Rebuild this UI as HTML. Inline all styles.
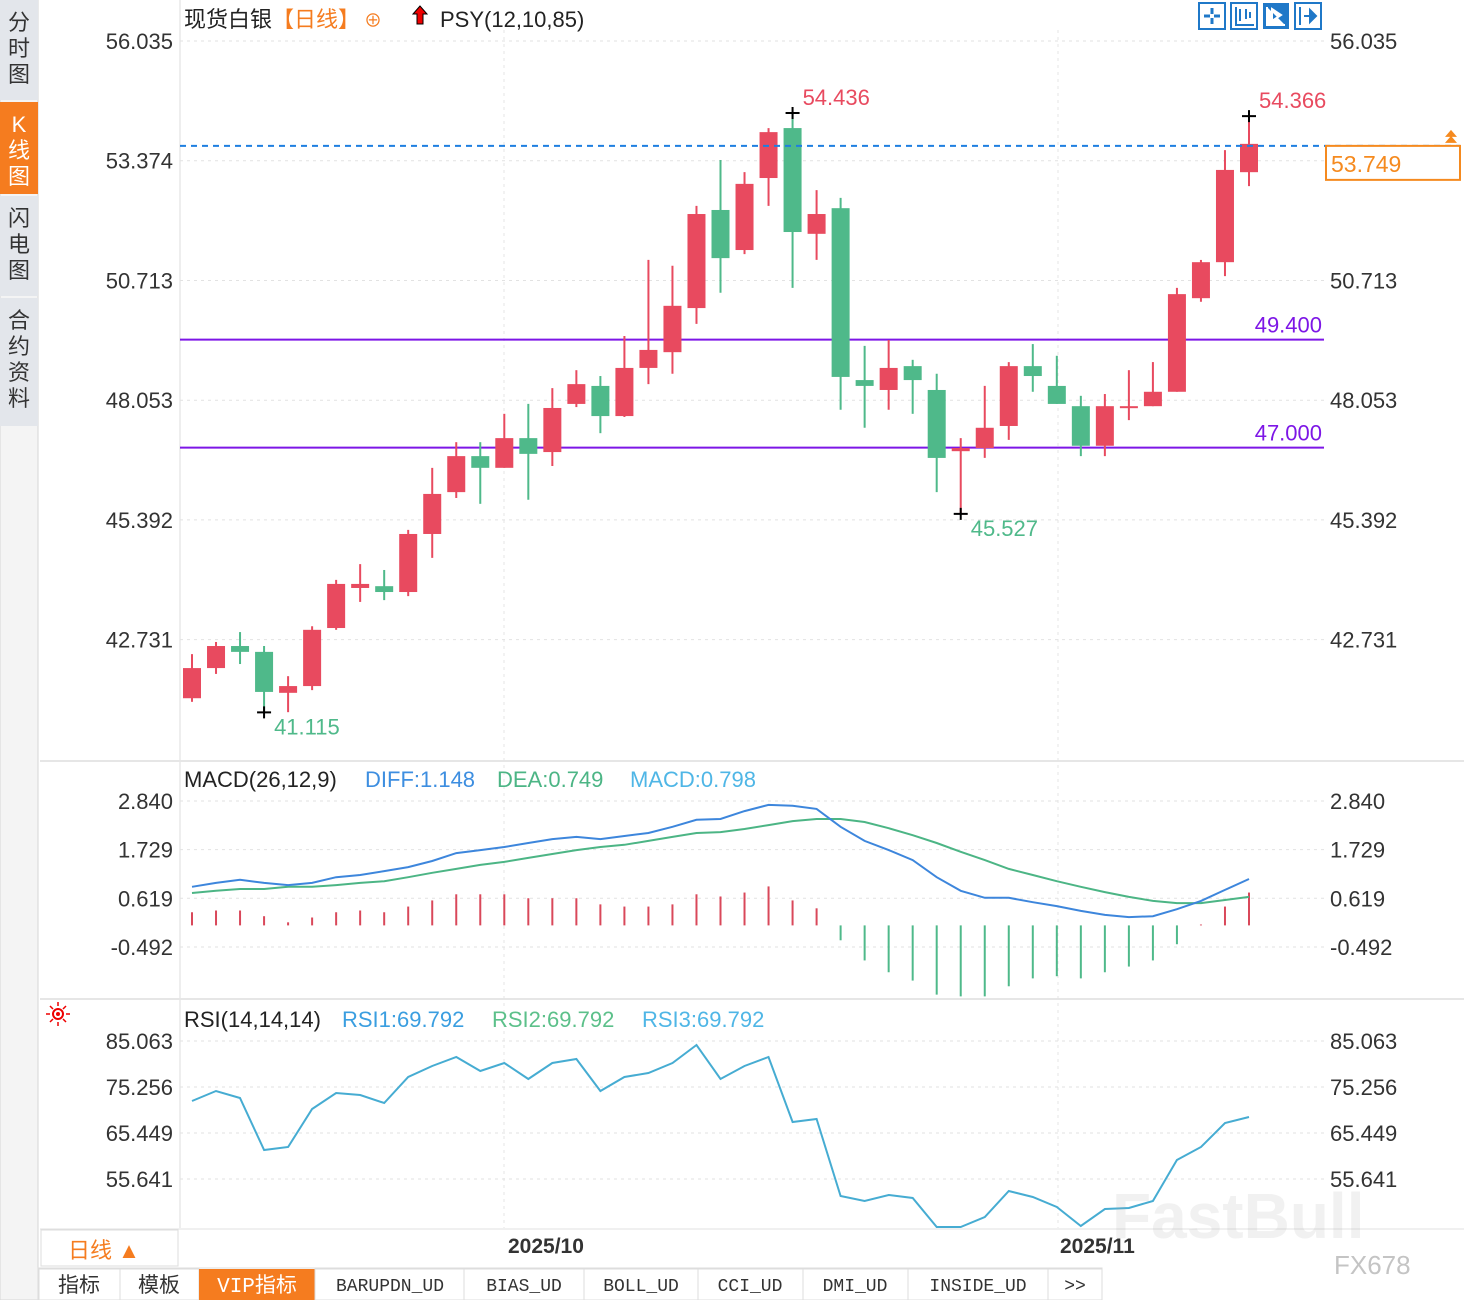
<!DOCTYPE html>
<html><head><meta charset="utf-8"><style>
html,body{margin:0;padding:0;background:#fff;width:1464px;height:1300px;overflow:hidden}
svg{display:block;font-family:"Liberation Sans","Noto Sans CJK SC",sans-serif}
</style></head><body>
<svg id="chart" width="1464" height="1300" viewBox="0 0 1464 1300" xmlns="http://www.w3.org/2000/svg">
<rect x="0" y="0" width="1464" height="1300" fill="#fff"/>
<g>
 <rect x="0" y="0" width="38" height="1300" fill="#f4f4f4" stroke="#d6d6d6"/>
 <rect x="0" y="0" width="38" height="100" fill="#e3e6eb"/>
 <text x="19" y="30" font-size="22" fill="#333" text-anchor="middle"><tspan x="19" dy="0">分</tspan><tspan x="19" dy="26">时</tspan><tspan x="19" dy="26">图</tspan></text>
 <rect x="0" y="102" width="38" height="92" fill="#f57c1f"/>
 <text x="19" y="132" font-size="22" fill="#fff" text-anchor="middle"><tspan x="19" dy="0">K</tspan><tspan x="19" dy="26">线</tspan><tspan x="19" dy="26">图</tspan></text>
 <rect x="0" y="196" width="38" height="100" fill="#e3e6eb"/>
 <text x="19" y="226" font-size="22" fill="#333" text-anchor="middle"><tspan x="19" dy="0">闪</tspan><tspan x="19" dy="26">电</tspan><tspan x="19" dy="26">图</tspan></text>
 <rect x="0" y="298" width="38" height="128" fill="#e3e6eb"/>
 <text x="19" y="328" font-size="22" fill="#333" text-anchor="middle"><tspan x="19" dy="0">合</tspan><tspan x="19" dy="26">约</tspan><tspan x="19" dy="26">资</tspan><tspan x="19" dy="26">料</tspan></text>
</g>
<line x1="180" y1="0" x2="180" y2="1228" stroke="#ddd"/>
<line x1="40" y1="761" x2="1464" y2="761" stroke="#e6e6e6" stroke-width="2"/>
<line x1="40" y1="999" x2="1464" y2="999" stroke="#e6e6e6" stroke-width="2"/>
<g id="grid"></g>
<g id="main"></g>
<g id="macd"></g>
<g id="rsi"></g>
<g id="axes"></g>
<g id="overlay"></g>

<text x="184" y="27" font-size="22" fill="#222">现货白银<tspan fill="#f57c1f">【日线】</tspan><tspan fill="#f57c1f" font-size="18" dx="4">⊕</tspan></text>
<path d="M420 6 l-7 8 h4 v10 h6 v-10 h4 z" fill="#e00" stroke="#000" stroke-width="1"/>
<text x="440" y="27" font-size="22" fill="#222">PSY(12,10,85)</text>

<g>
 <rect x="1199" y="3" width="26" height="26" fill="#fff" stroke="#1f78c8" stroke-width="2"/>
 <path d="M1212 8v6M1212 18v6M1204 16h6M1214 16h6" stroke="#1f78c8" stroke-width="3"/>
 <rect x="1231" y="3" width="26" height="26" fill="#fff" stroke="#1f78c8" stroke-width="2"/>
 <path d="M1236 7v18h18M1240 9v12M1246 9v10M1250 12v6" stroke="#1f78c8" stroke-width="2" fill="none"/>
 <rect x="1263" y="3" width="26" height="26" fill="#1f78c8"/>
 <path d="M1267 7v18h18M1272 9l9 6-9 6z" stroke="#fff" stroke-width="2" fill="#fff"/>
 <rect x="1295" y="3" width="26" height="26" fill="#fff" stroke="#1f78c8" stroke-width="2"/>
 <path d="M1300 7v18M1304 16h8M1310 10l6 6-6 6z" stroke="#1f78c8" stroke-width="2" fill="#1f78c8"/>
</g>

<g>
 <text x="184" y="787" font-size="22" fill="#222">MACD(26,12,9)</text>
 <text x="365" y="787" font-size="22" fill="#3d8ee0">DIFF:1.148</text>
 <text x="497" y="787" font-size="22" fill="#4cb585">DEA:0.749</text>
 <text x="630" y="787" font-size="22" fill="#4fb6e6">MACD:0.798</text>
</g>
<g>
 <circle cx="58" cy="1014" r="5" fill="none" stroke="#e00" stroke-width="2"/>
 <circle cx="58" cy="1014" r="2" fill="#e00"/>
 <path d="M58 1002v4M58 1022v4M46 1014h4M66 1014h4M50 1006l3 3M63 1019l3 3M66 1006l-3 3M53 1019l-3 3" stroke="#e00" stroke-width="1.5"/>
 <text x="184" y="1027" font-size="22" fill="#222">RSI(14,14,14)</text>
 <text x="342" y="1027" font-size="22" fill="#3a9ee0">RSI1:69.792</text>
 <text x="492" y="1027" font-size="22" fill="#5cc08a">RSI2:69.792</text>
 <text x="642" y="1027" font-size="22" fill="#4fb6e6">RSI3:69.792</text>
</g>

<g>
 <rect x="40" y="1229" width="1424" height="38" fill="#fff"/>
 <line x1="40" y1="1229" x2="1464" y2="1229" stroke="#e0e0e0"/>
 <rect x="41" y="1230" width="137" height="36" fill="#fff" stroke="#ddd"/>
 <text x="68" y="1258" font-size="22" fill="#f57c1f">日线 ▲</text>
 <text x="508" y="1253" font-size="21" font-weight="bold" fill="#333">2025/10</text>
 <text x="1060" y="1253" font-size="21" font-weight="bold" fill="#333">2025/11</text>
</g>

<g opacity="0.16">
 <text x="1112" y="1238" font-size="64" font-weight="bold" fill="#aaa">FastBull</text>
</g>
<text x="1334" y="1274" font-size="26" fill="#c4c4c4">FX678</text>

<g font-family="'Liberation Mono','Noto Sans CJK SC',monospace">
 <rect x="38" y="1268" width="1064" height="32" fill="#fff" stroke="#ddd"/>
 <g><rect x="39" y="1269" width="81" height="31" fill="#fff" stroke="#ddd"/><text x="79" y="1292" font-size="21" text-anchor="middle" fill="#333">指标</text></g>
 <g><rect x="120" y="1269" width="79" height="31" fill="#fff" stroke="#ddd"/><text x="159" y="1292" font-size="21" text-anchor="middle" fill="#333">模板</text></g>
 <g><rect x="199" y="1269" width="116" height="31" fill="#f57c1f"/><text x="257" y="1292" font-size="21" text-anchor="middle" fill="#fff">VIP指标</text></g>
 <g><rect x="315" y="1269" width="149" height="31" fill="#fff" stroke="#ddd"/><text x="390" y="1291" font-size="18" text-anchor="middle" fill="#333">BARUPDN_UD</text></g>
 <g><rect x="464" y="1269" width="120" height="31" fill="#fff" stroke="#ddd"/><text x="524" y="1291" font-size="18" text-anchor="middle" fill="#333">BIAS_UD</text></g>
 <g><rect x="584" y="1269" width="114" height="31" fill="#fff" stroke="#ddd"/><text x="641" y="1291" font-size="18" text-anchor="middle" fill="#333">BOLL_UD</text></g>
 <g><rect x="698" y="1269" width="105" height="31" fill="#fff" stroke="#ddd"/><text x="750" y="1291" font-size="18" text-anchor="middle" fill="#333">CCI_UD</text></g>
 <g><rect x="803" y="1269" width="105" height="31" fill="#fff" stroke="#ddd"/><text x="855" y="1291" font-size="18" text-anchor="middle" fill="#333">DMI_UD</text></g>
 <g><rect x="908" y="1269" width="140" height="31" fill="#fff" stroke="#ddd"/><text x="978" y="1291" font-size="18" text-anchor="middle" fill="#333">INSIDE_UD</text></g>
 <g><rect x="1048" y="1269" width="54" height="31" fill="#fff" stroke="#ddd"/><text x="1075" y="1291" font-size="18" text-anchor="middle" fill="#333">&gt;&gt;</text></g>
</g>
</svg>
<script>
const opens  = [41.43,42.10,42.59,42.46,41.55,41.70,42.99,43.88,43.92,43.79,45.08,46.01,46.81,46.55,47.21,46.90,47.97,48.37,47.70,48.77,49.12,50.10,52.28,51.39,52.99,54.10,51.75,52.32,48.50,48.28,48.81,48.28,46.92,46.99,47.48,48.81,48.37,47.92,47.04,47.90,47.92,48.24,50.32,51.12,53.12];
const highs  = [42.41,42.68,42.90,42.59,41.92,43.03,44.06,44.41,44.28,45.17,46.55,47.12,47.12,47.75,47.97,48.32,48.72,48.59,49.48,51.17,51.04,52.37,53.39,53.12,54.10,54.436,52.72,52.55,49.26,49.39,48.95,48.64,47.21,48.37,48.90,49.30,49.04,48.15,48.19,48.72,48.90,50.55,51.17,53.61,54.366];
const lows   = [41.35,41.97,42.19,41.115,41.12,41.61,42.95,43.57,43.61,43.70,44.55,45.88,45.75,46.55,45.84,46.59,47.90,47.32,47.68,48.41,48.64,49.75,50.44,51.30,52.37,50.55,51.17,47.84,47.44,47.84,47.75,46.01,45.527,46.77,47.17,48.24,47.97,46.81,46.81,47.61,47.92,48.24,50.24,50.81,52.81];
const closes = [42.10,42.59,42.46,41.57,41.70,42.95,43.97,43.97,43.79,45.08,45.97,46.81,46.55,47.21,46.86,47.88,48.41,47.70,48.77,49.17,50.15,52.19,51.21,52.86,54.01,51.79,52.19,48.57,48.37,48.77,48.50,46.77,46.99,47.44,48.81,48.59,47.97,47.04,47.92,47.92,48.24,50.41,51.12,53.17,53.749];
const priceTicks = [56.035,53.374,50.713,48.053,45.392,42.731];
const supportLevels = [49.400,47.000];
const lastPrice = 53.749;
const diffVals = [0.88,0.97,1.04,0.97,0.92,0.97,1.10,1.15,1.24,1.33,1.47,1.65,1.72,1.79,1.88,1.97,2.02,1.97,2.04,2.11,2.25,2.41,2.43,2.61,2.75,2.73,2.66,2.25,1.93,1.72,1.49,1.10,0.79,0.63,0.63,0.53,0.44,0.33,0.24,0.19,0.21,0.37,0.56,0.81,1.06];
const deaVals = [0.74,0.79,0.83,0.83,0.88,0.88,0.92,0.97,1.01,1.10,1.20,1.29,1.38,1.45,1.54,1.63,1.72,1.79,1.84,1.93,2.02,2.11,2.13,2.20,2.29,2.38,2.43,2.43,2.36,2.22,2.06,1.88,1.68,1.49,1.29,1.15,1.01,0.88,0.76,0.65,0.56,0.51,0.51,0.58,0.65];
const macdHist = [0.30,0.34,0.34,0.21,0.07,0.18,0.30,0.34,0.30,0.43,0.57,0.71,0.71,0.71,0.62,0.62,0.62,0.48,0.43,0.43,0.48,0.71,0.66,0.75,0.89,0.57,0.39,-0.34,-0.80,-1.07,-1.26,-1.58,-1.62,-1.62,-1.39,-1.21,-1.16,-1.21,-1.07,-0.94,-0.80,-0.43,0.02,0.43,0.75];
const macdTicks = [2.840,1.729,0.619,-0.492];
const rsiVals = [72.27,74.40,72.91,61.82,62.46,70.56,73.98,73.55,71.84,77.39,79.73,81.65,78.67,80.37,76.96,80.37,81.22,74.40,77.39,78.24,80.37,84.21,76.96,79.73,81.65,67.79,68.43,52.01,50.94,52.22,51.58,45.40,45.40,47.53,53.08,51.80,49.67,45.61,49.24,49.45,50.94,59.69,62.46,67.58,68.86];
const rsiTicks = [85.063,75.256,65.449,55.641];
const markHigh = [25,54.436], markHigh2 = [44,54.366], markLow = [3,41.115], markLow2 = [32,45.527];

const NS='http://www.w3.org/2000/svg';
function mk(tag,attrs,parent){const e=document.createElementNS(NS,tag);for(const k in attrs)e.setAttribute(k,attrs[k]);parent.appendChild(e);return e;}
const n = opens.length;
const xC = i => 192 + i*(1249-192)/(n-1);
const yP = v => 41 + (56.035 - v)*45.0;
const yM = v => 801 + (2.840 - v)*43.8;
const yR = v => 1041 + (85.063 - v)*4.69;
const fmt = v => v.toFixed(3);
const RED='#e84a5f', GREEN='#4fb98a';

const grid=document.getElementById('grid'), axes=document.getElementById('axes'), overlay=document.getElementById('overlay');
function ticks(arr, yf){
  arr.forEach(t=>{
    const y=yf(t);
    const g=mk('line',{x1:180,y1:y,x2:1324,y2:y,stroke:'#e2e2e2','stroke-dasharray':'3,4'},grid);
    
    
    const l=mk('text',{x:173,y:y+8,'font-size':22,fill:'#333','text-anchor':'end'},axes);
    l.textContent=fmt(t);
    
    
    const r=mk('text',{x:1330,y:y+8,'font-size':22,fill:'#333'},axes);
    r.textContent=fmt(t);
    
    
  });
}
ticks(priceTicks,yP); ticks(macdTicks,yM); ticks(rsiTicks,yR);
[504,1058].forEach(x=>{
  const v=mk('line',{x1:x,y1:30,x2:x,y2:1228,stroke:'#e4e4e4','stroke-dasharray':'3,4'},grid);
  
  
});

const main=document.getElementById('main');
supportLevels.forEach(s=>{
  const y=yP(s);
  const l=mk('line',{x1:180,y1:y,x2:1324,y2:y,stroke:'#7d16e6','stroke-width':2},main);
  
  
  const t=mk('text',{x:1322,y:y-7,'font-size':22,fill:'#7d16e6','text-anchor':'end'},main);
  t.textContent=fmt(s);
  
  
});
for(let i=0;i<n;i++){
  const up=closes[i]>=opens[i], c=up?RED:GREEN, x=xC(i);
  const w=mk('line',{x1:x,y1:yP(highs[i]),x2:x,y2:yP(lows[i]),stroke:c,'stroke-width':2},main);
  
  
  const top=yP(Math.max(opens[i],closes[i])), bot=yP(Math.min(opens[i],closes[i]));
  const b=mk('rect',{x:x-9,y:top,width:18,height:Math.max(2,bot-top),fill:c},main);
  
  
}
const yl=yP(lastPrice)+2;
const dl=mk('line',{x1:180,y1:yl,x2:1460,y2:yl,stroke:'#1e7fe0','stroke-width':2,'stroke-dasharray':'6,5'},overlay);


const pb=mk('rect',{x:1326,y:yl,width:134,height:34,fill:'#fff',stroke:'#f58a1f','stroke-width':2},overlay);


const pt=mk('text',{x:1331,y:yl+26,'font-size':23,fill:'#f58a1f'},overlay);
pt.textContent=fmt(lastPrice);


const pa=mk('path',{d:`M1451 ${yl-16} l-6 7 h12 z M1451 ${yl-10} l-6 7 h12 z`,fill:'#f58a1f'},overlay);


function mark(m,isHigh){
  const x=xC(m[0]), y=yP(m[1]);
  const c=mk('path',{d:`M${x-7} ${y} h14 M${x} ${y-6} v12`,stroke:'#000','stroke-width':2},main);
  
  
  const t=mk('text',{x:x+10,y:isHigh?y-8:y+22,'font-size':22,fill:isHigh?'#e84a5f':'#4fb98a'},main);
  t.textContent=fmt(m[1]);
  
  
}
mark(markHigh,true); mark(markHigh2,true); mark(markLow,false); mark(markLow2,false);

const macd=document.getElementById('macd');
const z=yM(0);
for(let i=0;i<n;i++){
  const v=macdHist[i], x=xC(i);
  const b=mk('line',{x1:x,y1:z,x2:x,y2:yM(v),stroke:v>=0?'#d9485a':'#4fb98a','stroke-width':2},macd);
  
  
}
function line(vals,yf,color,parent,name){
  const d=vals.map((v,i)=>(i?'L':'M')+xC(i).toFixed(1)+' '+yf(v).toFixed(1)).join(' ');
  const p=mk('path',{d:d,fill:'none',stroke:color,'stroke-width':2},parent);
  
  
}
line(deaVals,yM,'#4cb585',macd,'dea-line');
line(diffVals,yM,'#3d86dc',macd,'diff-line');
line(rsiVals,yR,'#46acd2',document.getElementById('rsi'),'rsi-line');
</script>
</body></html>
